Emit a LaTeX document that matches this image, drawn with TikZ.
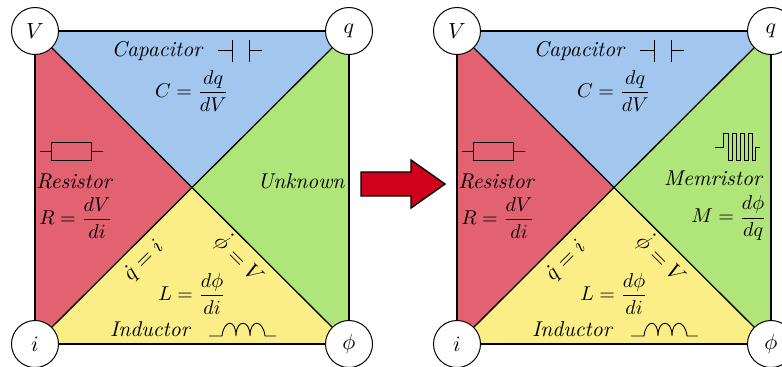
\documentclass[tikz,border=0pt]{standalone}
\usepackage{amsmath}
\usetikzlibrary{calc}

\definecolor{capblue}{HTML}{A3C6EE}
\definecolor{resred}{HTML}{E26272}
\definecolor{memgreen}{HTML}{B0E57A}
\definecolor{indyellow}{HTML}{FCEE87}
\definecolor{arrowred}{HTML}{D0021B}

\tikzset{
  corner/.style={draw,circle,fill=white,minimum size=23.5pt,inner sep=0pt,line width=0.5pt,font=\fontsize{11}{13}\selectfont},
  edge/.style={line width=0.65pt},
  symb/.style={line width=0.45pt,line join=miter},
  lab/.style={inner sep=0pt},
  dotlab/.style={inner sep=0pt,font=\fontsize{11}{13}\selectfont},
  devname/.style={inner sep=0pt,font=\fontsize{10.7}{13}\selectfont\itshape},
}

% one square of the four variables, #1 = prefix, #2 = left edge of the picture
\newcommand{\lawsquare}[2]{
  \begin{scope}[shift={(#2,31)}]
    \coordinate (#1c) at (157,156);
    \path (0,0) coordinate (#1V0) (314,0) coordinate (#1q0) (0,313) coordinate (#1i0) (314,313) coordinate (#1f0);
    \fill[capblue] (#1V0) -- (#1q0) -- (#1c) -- cycle;
    \fill[resred] (#1V0) -- (#1i0) -- (#1c) -- cycle;
    \fill[memgreen] (#1q0) -- (#1f0) -- (#1c) -- cycle;
    \fill[indyellow] (#1i0) -- (#1f0) -- (#1c) -- cycle;
    \node[corner] (#1V) at (#1V0) {$V$};
    \node[corner] (#1q) at (#1q0) {$q$};
    \node[corner] (#1i) at (#1i0) {$i$};
    \node[corner] (#1f) at (#1f0) {$\phi$};
    \draw[edge] (#1V) -- (#1q);
    \draw[edge] (#1q) -- (#1f);
    \draw[edge] (#1f) -- (#1i);
    \draw[edge] (#1i) -- (#1V);
    \draw[edge] (#1V) -- (#1f);
    \draw[edge] (#1i) -- (#1q);

    \node[devname] (#1cap) at (122,20) {Capacitor};
    \node[lab] (#1capeq) at (157,60) {$C=\dfrac{dq}{dV}$};
    \draw[symb] (183,19) -- (197,19) (197,9) -- (197,31) (214,9) -- (214,31) (214,19) -- (227,19);

    \draw[symb] (5,120) -- (16,120) (16,111) rectangle (56,129) (56,120) -- (68,120);
    \node[devname] (#1res) at (39,150) {Resistor};
    \node[lab] (#1reseq) at (41,187) {$R=\dfrac{dV}{di}$};

    \node[lab] (#1indeq) at (157,263) {$L=\dfrac{d\phi}{di}$};
    \node[devname] (#1ind) at (115,298) {Inductor};
    \draw[symb] (174,305) -- (187,305)
      .. controls (189,288) and (201,288) .. (201,305)
      .. controls (201,288) and (215,288) .. (215,305)
      .. controls (215,288) and (228,288) .. (230,305) -- (241,305);

    \node[dotlab,rotate=45] (#1qdot) at (109,230) {$\dot q=i$};
    \node[dotlab,rotate=-45] (#1fdot) at (205,227) {$\dot\phi=V$};
  \end{scope}
}

\begin{document}
\begin{tikzpicture}[x=0.5pt,y=-0.5pt]
  \useasboundingbox (0,0) rectangle (782,366);

  \lawsquare{a}{35}
  \node[devname] (unk) at (301,181) {Unknown};

  \lawsquare{b}{457}
  \node[devname] (mem) at (713,178) {Memristor};
  \node[lab] (memeq) at (729,218) {$M=\dfrac{d\phi}{dq}$};
  \draw[symb] (715,147) -- (723,147) -- (723,133) -- (728,133) -- (728,160) -- (732,160) -- (732,133)
    -- (736,133) -- (736,160) -- (740,160) -- (740,133) -- (744,133) -- (744,160) -- (748,160) -- (748,133)
    -- (752,133) -- (752,160) -- (755,160) -- (755,147) -- (760,147);

  \filldraw[fill=arrowred,line width=0.7pt] (361,172) -- (411,172) -- (411,160) -- (445,184) -- (411,208) -- (411,196) -- (361,196) -- cycle;
\end{tikzpicture}
\end{document}
